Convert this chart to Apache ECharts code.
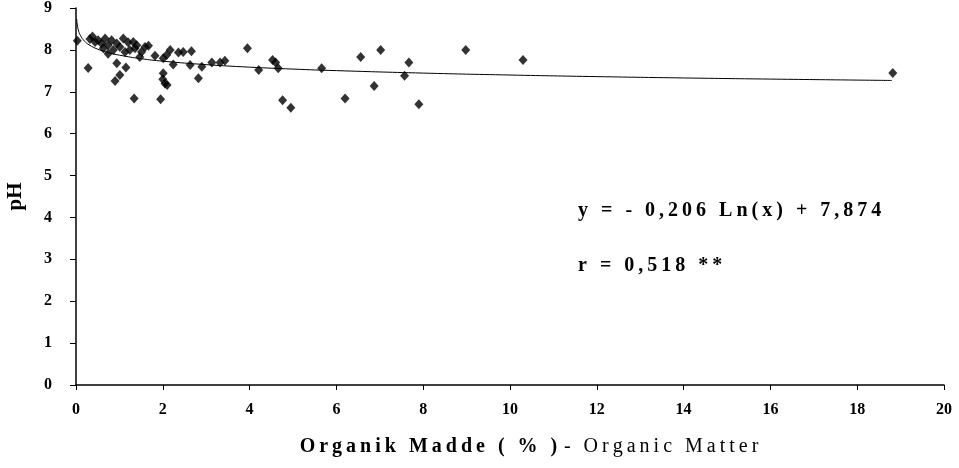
<!DOCTYPE html>
<html>
<head>
<meta charset="utf-8">
<script src="https://cdn.jsdelivr.net/npm/echarts@6/dist/echarts.min.js"></script>
<style>
html,body{margin:0;padding:0;background:#fff;}
#c{width:959px;height:468px;}
</style>
</head>
<body>
<div id="c"></div>
<script>
// Scatter data: organic matter (%) and pH
var omValues = [0.03,0.28,0.32,0.38,0.44,0.51,0.59,0.63,0.67,0.74,0.74,0.82,0.86,0.94,1.01,0.94,1.15,1.09,1.20,1.13,1.24,1.01,0.90,1.34,1.32,1.40,1.59,1.67,1.36,1.51,1.47,1.82,2.01,2.09,2.17,2.36,2.47,2.66,2.24,2.63,2.01,1.95,2.00,2.05,2.10,2.82,2.90,3.13,3.32,3.43,3.95,4.21,4.53,4.60,4.66,4.76,4.95,5.66,6.20,6.56,6.87,7.02,7.57,7.67,7.90,8.98,10.30,18.82];
var phValues = [8.22,7.57,8.26,8.32,8.19,8.23,8.15,8.04,8.27,8.11,7.91,8.23,8.00,8.15,8.07,7.68,7.58,8.27,8.18,7.95,8.00,7.40,7.26,6.84,8.19,8.11,8.07,8.10,8.04,7.95,7.83,7.86,7.80,7.88,8.00,7.94,7.95,7.97,7.65,7.64,7.44,6.82,7.30,7.20,7.16,7.32,7.60,7.70,7.70,7.74,8.04,7.52,7.76,7.70,7.56,6.80,6.62,7.56,6.84,7.83,7.14,8.00,7.38,7.70,6.70,8.00,7.76,7.45];
// Trend line points
var trendX = [0.015,0.03,0.05,0.1,0.2,0.3,0.5,0.75,1,1.5,2,3,4,5,6,8,10,12,14,16,18.8];
var trendY = [8.739,8.596,8.491,8.348,8.205,8.122,8.017,7.933,7.874,7.790,7.731,7.648,7.588,7.542,7.505,7.446,7.400,7.362,7.330,7.303,7.270];
var xTicks = [0,2,4,6,8,10,12,14,16,18,20];
var yTicks = [0,1,2,3,4,5,6,7,8,9];
var eqText = 'y = - 0,206 Ln(x) + 7,874';
var rText = 'r = 0,518 **';
var xTitleBold = 'Organik Madde ( % )';
var xTitleNormal = '- Organic Matter';

// spread characters apart with thin spaces (letter spacing look of the original)
function spread(s, sp){ return s.split('').join(sp); }
var TS = '\u2009';

var scatterData = omValues.map(function(v,i){return [v, phValues[i]];});
var trendData = trendX.map(function(v,i){return [v, trendY[i]];});

var chart = echarts.init(document.getElementById('c'), null, {renderer:'canvas'});
var serif = '"Liberation Serif","DejaVu Serif",serif';
chart.setOption({
  backgroundColor:'#ffffff',
  animation:false,
  grid:{left:76,right:15,top:8,bottom:83,containLabel:false,outerBoundsMode:'none'},
  xAxis:{
    type:'value', min:xTicks[0], max:xTicks[xTicks.length-1], interval:2,
    splitLine:{show:false},
    axisLine:{show:true,lineStyle:{color:'#000',width:1.5}},
    axisTick:{show:true,length:5,lineStyle:{color:'#000',width:1}},
    axisLabel:{color:'#000',fontFamily:serif,fontWeight:'bold',fontSize:16,margin:17},
    name:'{b|'+spread(xTitleBold, TS)+'}  {n|'+spread(xTitleNormal, TS)+'}',
    nameLocation:'middle', nameGap:52,
    nameTextStyle:{padding:[0,0,0,38],rich:{
      b:{fontFamily:serif,fontWeight:'bold',fontSize:20,color:'#000'},
      n:{fontFamily:serif,fontWeight:'normal',fontSize:20,color:'#000'}
    }}
  },
  yAxis:{
    type:'value', min:yTicks[0], max:yTicks[yTicks.length-1], interval:1,
    splitLine:{show:false},
    axisLine:{show:true,lineStyle:{color:'#000',width:1.5}},
    axisTick:{show:true,length:6,lineStyle:{color:'#000',width:1}},
    axisLabel:{color:'#000',fontFamily:serif,fontWeight:'bold',fontSize:16,margin:24},
    name:'pH', nameLocation:'middle', nameGap:50, nameRotate:90,
    nameTextStyle:{fontFamily:serif,fontWeight:'bold',fontSize:21,color:'#000'}
  },
  series:[
    {type:'line', data:trendData, smooth:true, symbol:'none',
     lineStyle:{color:'#000',width:1}, z:2},
    {type:'scatter', data:scatterData, symbol:'diamond', symbolSize:[9,10],
     itemStyle:{color:'#000'}, z:3}
  ],
  graphic:[
    {type:'text', left:578, top:201, style:{text:spread(eqText, TS), font:'bold 20px '+serif, fill:'#000'}},
    {type:'text', left:578, top:256, style:{text:spread(rText, TS), font:'bold 20px '+serif, fill:'#000'}}
  ]
});
</script>
</body>
</html>
